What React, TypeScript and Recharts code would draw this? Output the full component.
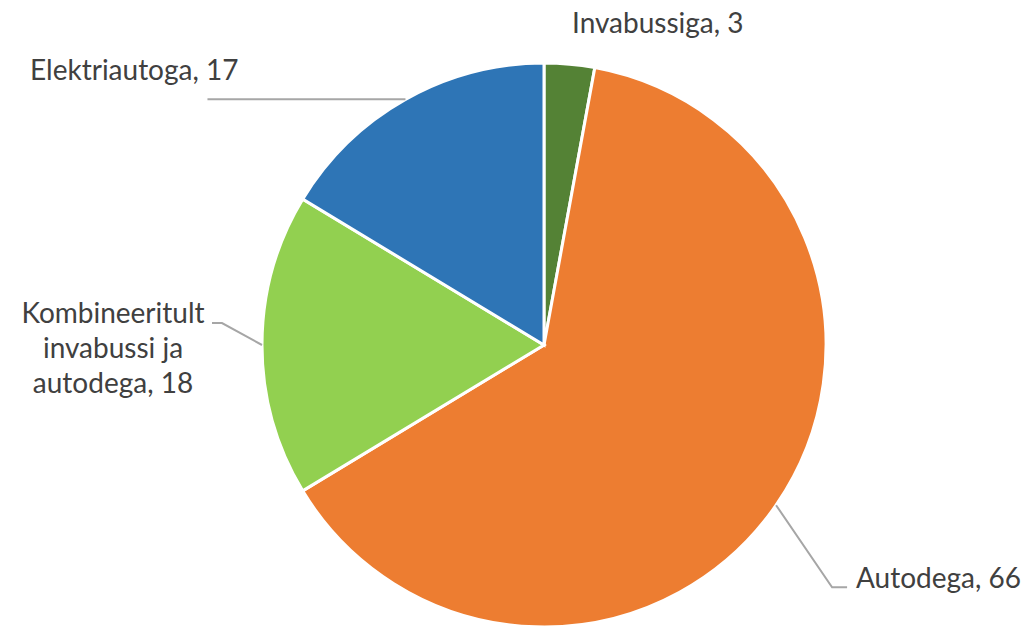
import { PieChart, Pie, Cell } from "recharts";

const categories = ["Invabussiga", "Autodega", "Kombineeritult invabussi ja autodega", "Elektriautoga"];
const values = [3, 66, 18, 17];
const labelLines = [
  ["Invabussiga, 3"],
  ["Autodega, 66"],
  ["Kombineeritult", "invabussi ja", "autodega, 18"],
  ["Elektriautoga, 17"],
];
const colors = ["#548235", "#ED7D31", "#92D050", "#2E75B6"];

// leader line bends (relative to the slice edge) and text placement
const layout = [
  { bend: null, end: null, tx: 572, ty: 33, anchor: "start" },
  { bend: [56, 82], end: [15, 0], tx: 856, ty: 588, anchor: "start" },
  { bend: [-40, -22], end: [-10, 0], tx: 113, ty: 323, anchor: "middle" },
  { bend: [-198, 0], end: [0, 0], tx: 30, ty: 80, anchor: "start" },
];

const data = categories.map((name, i) => ({ name, value: values[i] }));

const RAD = Math.PI / 180;

function renderLabel(props: any) {
  const { cx, cy, midAngle, outerRadius, index } = props;
  const l = layout[index];
  const px = cx + outerRadius * Math.cos(-midAngle * RAD);
  const py = cy + outerRadius * Math.sin(-midAngle * RAD);
  let path = null;
  if (l.bend && l.end) {
    const bx = px + l.bend[0];
    const by = py + l.bend[1];
    const ex = bx + l.end[0];
    const ey = by + l.end[1];
    path = (
      <polyline
        points={`${px},${py} ${bx},${by} ${ex},${ey}`}
        fill="none"
        stroke="#A6A6A6"
        strokeWidth={2}
      />
    );
  }
  return (
    <g key={`lbl-${index}`}>
      {path}
      <text
        x={l.tx}
        y={l.ty}
        textAnchor={l.anchor}
        fill="#404040"
        fontSize={28}
        fontFamily="Lato, 'Open Sans', sans-serif"
      >
        {labelLines[index].map((t, j) => (
          <tspan key={j} x={l.tx} dy={j === 0 ? 0 : 35}>
            {t}
          </tspan>
        ))}
      </text>
    </g>
  );
}

export default function App() {
  return (
    <div style={{ position: "absolute", left: 0, top: 0, width: 1032, height: 626, background: "#fff" }}>
      <PieChart width={1032} height={626} margin={{ top: 0, right: 0, bottom: 0, left: 0 }}>
        <Pie
          data={data}
          dataKey="value"
          nameKey="name"
          cx={544}
          cy={345}
          outerRadius={282}
          startAngle={90}
          endAngle={-270}
          stroke="#FFFFFF"
          strokeWidth={3}
          label={renderLabel}
          labelLine={false}
          isAnimationActive={false}
        >
          {data.map((d, i) => (
            <Cell key={d.name} fill={colors[i]} />
          ))}
        </Pie>
      </PieChart>
    </div>
  );
}
